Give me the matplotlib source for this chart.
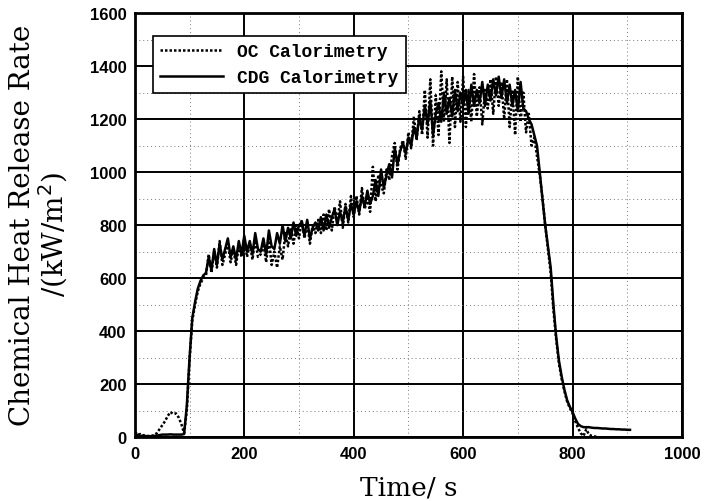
import numpy as np
import matplotlib
matplotlib.use("Agg")
import matplotlib.pyplot as plt
from matplotlib.ticker import MultipleLocator

# data (5 s steps)
t_cdg = np.arange(0, 910, 5)
hrr_cdg = [15, 8, 5, 6, 4, 5, 3, 5, 6, 8, 10, 10, 10, 11, 10, 10, 10, 10, 12, 120,
           300, 450, 510, 560, 590, 610, 620, 680, 630, 710, 650, 730, 670, 710, 750, 680,
           720, 670, 740, 690, 760, 700, 740, 690, 770, 710, 700, 750, 690, 780, 720, 710,
           770, 730, 800, 740, 790, 750, 810, 760, 800, 810, 760, 820, 750, 790, 810, 780,
           830, 780, 840, 790, 830, 860, 800, 850, 810, 870, 820, 880, 840, 890, 850, 910,
           870, 930, 880, 910, 970, 910, 1010, 940, 990, 1030, 980, 1090, 1030, 1080, 1110, 1070,
           1130, 1100, 1170, 1130, 1210, 1160, 1250, 1180, 1270, 1140, 1220, 1260, 1190, 1300, 1220, 1280,
           1210, 1310, 1230, 1300, 1250, 1310, 1220, 1330, 1250, 1310, 1260, 1340, 1250, 1330, 1270, 1350,
           1290, 1360, 1280, 1350, 1260, 1330, 1250, 1310, 1230, 1340, 1240, 1230, 1200, 1180, 1140, 1100,
           1000, 900, 800, 720, 640, 500, 380, 290, 230, 180, 140, 115, 95, 70, 50, 42,
           38, 38, 38, 36, 35, 35, 34, 33, 33, 32, 31, 31, 30, 30, 29, 29,
           28, 28]

t_oc = np.arange(0, 850, 5)
hrr_oc = [20, 10, 12, 8, 5, 3, 5, 8, 15, 30, 45, 60, 80, 95, 88, 90, 75, 50, 15, 100,
          290, 440, 500, 550, 580, 600, 610, 690, 620, 700, 640, 740, 650, 690, 730, 660,
          710, 650, 720, 680, 750, 680, 730, 670, 750, 680, 690, 730, 660, 750, 650, 700,
          640, 720, 670, 770, 720, 790, 730, 800, 750, 820, 750, 810, 730, 800, 770, 820,
          770, 840, 780, 860, 780, 870, 810, 890, 790, 880, 810, 910, 830, 910, 840, 940,
          860, 900, 850, 1020, 890, 990, 950, 920, 1010, 970, 1060, 1110, 1010, 1090, 1120, 1050,
          1150, 1090, 1210, 1120, 1230, 1140, 1310, 1130, 1350, 1100, 1290, 1140, 1380, 1190, 1350, 1110,
          1360, 1170, 1340, 1190, 1360, 1170, 1310, 1190, 1370, 1210, 1320, 1180, 1310, 1240, 1350, 1220,
          1360, 1250, 1340, 1200, 1350, 1170, 1310, 1140, 1360, 1190, 1300, 1150, 1220, 1100, 1130, 1060,
          990, 900, 800, 710, 620, 480, 370, 280, 220, 175, 135, 110, 90, 60, 35, 15,
          5, 30, 10, 5, 3, 2]

fig = plt.figure(figsize=(7.06, 5.02), dpi=100)
ax = fig.add_axes([0.191, 0.127, 0.775, 0.845])

ax.plot(t_oc, hrr_oc, color="black", linestyle=(0, (1, 0.8)), linewidth=1.8,
        label="OC Calorimetry", zorder=3)
ax.plot(t_cdg, hrr_cdg, color="black", linestyle="-", linewidth=1.8,
        label="CDG Calorimetry", zorder=4)

ax.set_xlim(0, 1000)
ax.set_ylim(0, 1600)
ax.xaxis.set_major_locator(MultipleLocator(200))
ax.yaxis.set_major_locator(MultipleLocator(200))
ax.xaxis.set_minor_locator(MultipleLocator(100))
ax.yaxis.set_minor_locator(MultipleLocator(100))
ax.grid(which="major", color="black", linewidth=1.4)
ax.grid(which="minor", color="#777777", linestyle=(0, (1, 3)), linewidth=0.7)
ax.tick_params(which="both", length=0, pad=6)
for lab in ax.get_xticklabels() + ax.get_yticklabels():
    lab.set_fontfamily("Liberation Sans")
    lab.set_fontweight("bold")
    lab.set_fontsize(12)
for s in ax.spines.values():
    s.set_linewidth(2)

ax.set_xlabel("Time/ s", fontfamily="DejaVu Serif", fontsize=19, labelpad=10)
fig.text(0.032, 0.552, "Chemical Heat Release Rate", rotation=90, ha="center",
         va="center", fontfamily="DejaVu Serif", fontsize=20)
fig.text(0.075, 0.534, "/(kW/m$^2$)", rotation=90, ha="center", va="center",
         fontfamily="DejaVu Serif", fontsize=20)

leg = ax.legend(loc="upper left", bbox_to_anchor=(0.016, 0.968), frameon=True,
                fancybox=False, edgecolor="black", handlelength=3.5,
                prop={"family": "Liberation Mono", "weight": "bold", "size": 13})
leg.get_frame().set_linewidth(1.2)
leg.get_frame().set_alpha(1)

fig.savefig("out.png", dpi=100)
